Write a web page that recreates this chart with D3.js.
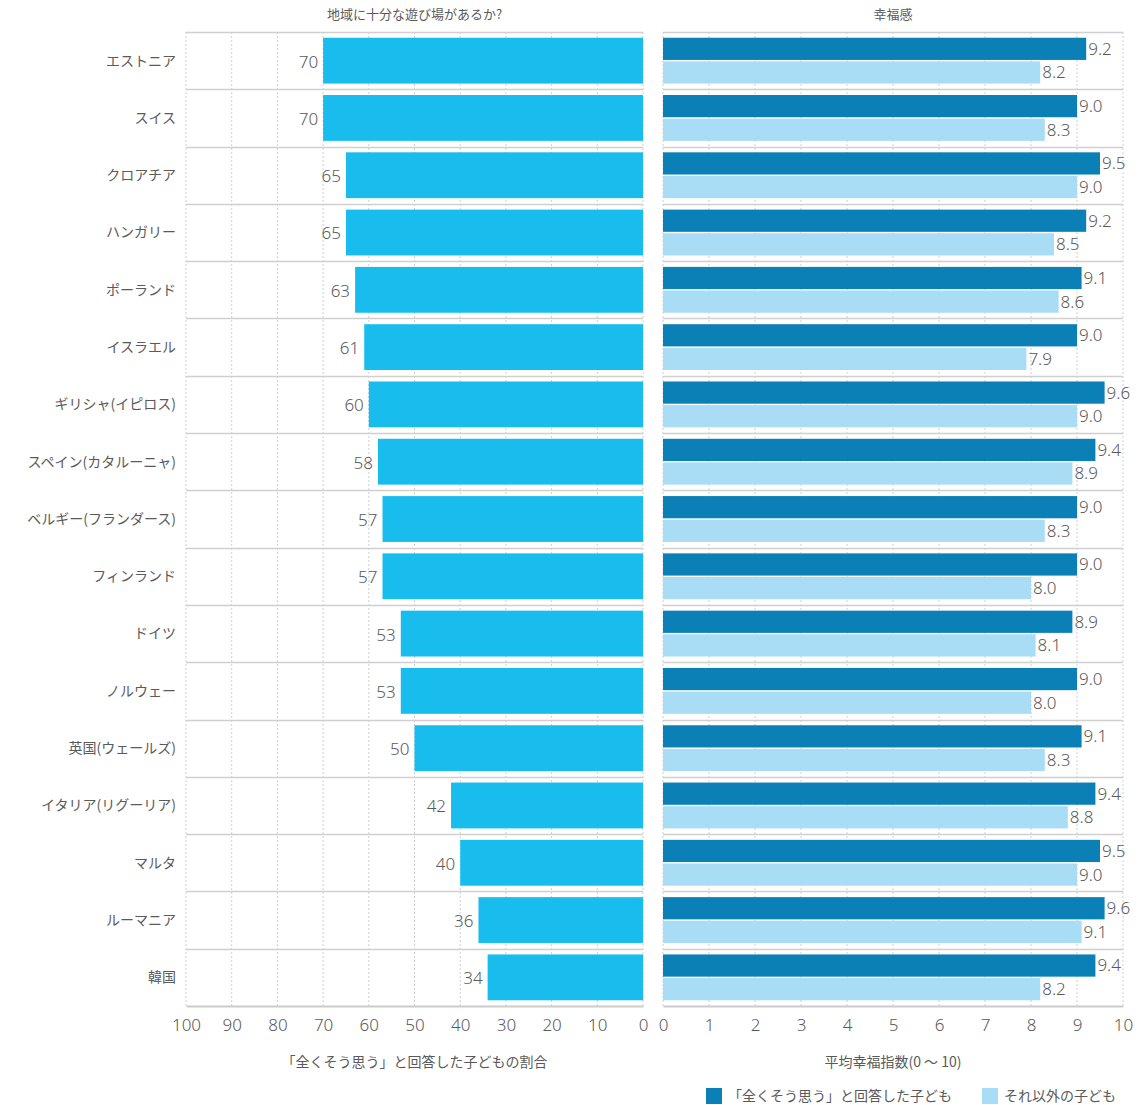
<!DOCTYPE html>
<html><head><meta charset="utf-8">
<script src="https://cdn.jsdelivr.net/npm/d3@7"></script>
<style>body{margin:0;background:#fff}text{font-family:"Noto Sans CJK JP","Noto Sans",sans-serif}</style>
</head><body><svg id="c" width="1145" height="1105"></svg>
<script>
const categories=["エストニア","スイス","クロアチア","ハンガリー","ポーランド","イスラエル","ギリシャ(イピロス)","スペイン(カタルーニャ)","ベルギー(フランダース)","フィンランド","ドイツ","ノルウェー","英国(ウェールズ)","イタリア(リグーリア)","マルタ","ルーマニア","韓国"];
const playgroundPct=[70,70,65,65,63,61,60,58,57,57,53,53,50,42,40,36,34];
const happyAgree=[9.2,9.0,9.5,9.2,9.1,9.0,9.6,9.4,9.0,9.0,8.9,9.0,9.1,9.4,9.5,9.6,9.4];
const happyOther=[8.2,8.3,9.0,8.5,8.6,7.9,9.0,8.9,8.3,8.0,8.1,8.0,8.3,8.8,9.0,9.1,8.2];
const leftTicks=[100,90,80,70,60,50,40,30,20,10,0];
const rightTicks=[0,1,2,3,4,5,6,7,8,9,10];
const titleLeft="地域に十分な遊び場があるか?";
const titleRight="幸福感";
const axisLeft="「全くそう思う」と回答した子どもの割合";
const axisRight="平均幸福指数(0 ～ 10)";
const legendLabels=["「全くそう思う」と回答した子ども","それ以外の子ども"];

const C_LEFT="#18bdee",C_DARK="#0a80b6",C_LIGHT="#a9dcf5",TXT="#5a5a5a",GRID="#d0d0d0";
const svg=d3.select("#c");
const plotTop=32,plotBottom=1006;
const y=d3.scaleBand().domain(categories).range([plotTop,plotBottom]).paddingInner(0.2).paddingOuter(0.1);
const yRow=d3.scaleBand().domain(categories).range([plotTop,plotBottom]);
const xL=d3.scaleLinear().domain([100,0]).range([186,643]);
const xR=d3.scaleLinear().domain([0,10]).range([663,1123]);

function panel(x,ticks,x0,x1){
  const g=svg.append("g");
  g.selectAll("line.v").data(ticks).join("line")
    .attr("x1",d=>x(d)).attr("x2",d=>x(d)).attr("y1",plotTop).attr("y2",plotBottom)
    .attr("stroke",GRID).attr("stroke-dasharray","2,2").attr("stroke-width",1);
  g.selectAll("line.h").data(categories).join("line")
    .attr("x1",x0).attr("x2",x1).attr("y1",d=>Math.round(yRow(d))+0.5).attr("y2",d=>Math.round(yRow(d))+0.5)
    .attr("stroke",GRID).attr("stroke-width",1.5);
  const ax=g.append("g").attr("transform",`translate(0,${plotBottom})`)
    .call(d3.axisBottom(x).tickValues(ticks).tickSize(0).tickPadding(13));
  ax.select(".domain").attr("stroke","#ccc").attr("stroke-width",2);
  ax.selectAll("text").attr("font-size",17).attr("fill",TXT).style("font-family","'Noto Sans',sans-serif").attr("font-weight",300);
  return g;
}
panel(xL,leftTicks,186,643);
panel(xR,rightTicks,663,1123);

svg.append("g").selectAll("rect").data(categories).join("rect")
  .attr("x",(d,i)=>xL(playgroundPct[i])).attr("width",(d,i)=>xL(0)-xL(playgroundPct[i]))
  .attr("y",d=>y(d)).attr("height",y.bandwidth()).attr("fill",C_LEFT);
svg.append("g").selectAll("text").data(categories).join("text")
  .attr("x",(d,i)=>xL(playgroundPct[i])-5).attr("y",d=>y(d)+y.bandwidth()/2+1)
  .attr("dy","0.35em").attr("text-anchor","end").attr("font-size",17).attr("fill",TXT)
  .style("font-family","'Noto Sans',sans-serif").attr("font-weight",300).text((d,i)=>playgroundPct[i]);

const sub=d3.scaleBand().domain(["a","b"]).range([0,y.bandwidth()]).paddingInner(0.06);
const series=[{k:"a",v:happyAgree,c:C_DARK},{k:"b",v:happyOther,c:C_LIGHT}];
series.forEach(s=>{
  svg.append("g").selectAll("rect").data(categories).join("rect")
    .attr("x",xR(0)).attr("width",(d,i)=>xR(s.v[i])-xR(0))
    .attr("y",d=>y(d)+sub(s.k)).attr("height",sub.bandwidth()).attr("fill",s.c);
  svg.append("g").selectAll("text").data(categories).join("text")
    .attr("x",(d,i)=>xR(s.v[i])+2).attr("y",d=>y(d)+sub(s.k)+sub.bandwidth()/2)
    .attr("dy","0.35em").attr("font-size",17).attr("fill",TXT)
    .style("font-family","'Noto Sans',sans-serif").attr("font-weight",300).text((d,i)=>s.v[i].toFixed(1));
});

svg.append("g").selectAll("text").data(categories).join("text")
  .attr("x",176).attr("y",d=>yRow(d)+yRow.bandwidth()/2).attr("dy","0.35em")
  .attr("text-anchor","end").attr("font-size",14).attr("fill",TXT).text(d=>d);

svg.append("text").attr("x",(xL(100)+xL(0))/2).attr("y",19).attr("text-anchor","middle").attr("font-size",13).attr("fill",TXT).text(titleLeft);
svg.append("text").attr("x",(xR(0)+xR(10))/2).attr("y",19).attr("text-anchor","middle").attr("font-size",13).attr("fill",TXT).text(titleRight);
svg.append("text").attr("x",(xL(100)+xL(0))/2).attr("y",1067).attr("text-anchor","middle").attr("font-size",14).attr("fill",TXT).text(axisLeft);
svg.append("text").attr("x",(xR(0)+xR(10))/2).attr("y",1067).attr("text-anchor","middle").attr("font-size",14).attr("fill",TXT).text(axisRight);

const lg=[{x:706,c:C_DARK,t:legendLabels[0]},{x:982,c:C_LIGHT,t:legendLabels[1]}];
lg.forEach(l=>{
  svg.append("rect").attr("x",l.x).attr("y",1088).attr("width",16).attr("height",16).attr("fill",l.c);
  svg.append("text").attr("x",l.x+22).attr("y",1096).attr("dy","0.35em").attr("font-size",14).attr("fill",TXT).text(l.t);
});
</script></body></html>
